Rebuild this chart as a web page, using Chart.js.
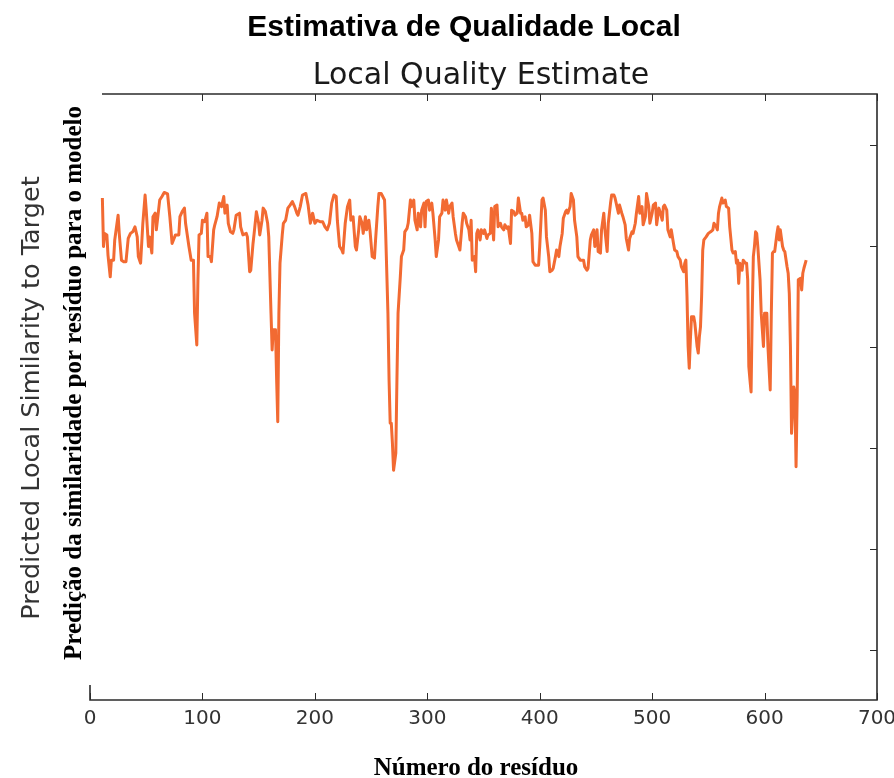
<!DOCTYPE html>
<html>
<head>
<meta charset="utf-8">
<script src="https://cdn.jsdelivr.net/npm/chart.js@4"></script>
<style>
  html, body { margin: 0; padding: 0; background: #fff; }
  #wrap { width: 894px; height: 778px; }
</style>
</head>
<body>
<div id="wrap"><canvas id="grafico" width="894" height="778"></canvas></div>
<script>
// Número do resíduo
const residues = [
  11, 12, 13, 15, 16, 18, 19, 21, 22, 25, 26, 28, 30, 32, 34, 36, 38, 40, 42, 43,
  45, 47, 49, 50, 52, 53, 55, 56, 58, 59, 61, 62, 64, 66, 69, 71, 73, 76, 79, 80,
  82, 84, 85, 88, 90, 92, 93, 95, 96, 97, 99, 100, 102, 104, 105, 107, 108, 110, 111, 113,
  115, 117, 119, 120, 122, 123, 125, 127, 128, 130, 133, 134, 136, 139, 140, 142, 143, 145, 146, 148,
  150, 151, 153, 154, 156, 158, 159, 161, 162, 163, 165, 166, 167, 168, 169, 171, 172, 174, 176, 178,
  180, 182, 184, 185, 187, 189, 192, 194, 196, 198, 200, 202, 205, 207, 209, 211, 213, 215, 217, 219,
  220, 222, 224, 225, 227, 229, 231, 232, 234, 236, 237, 239, 240, 242, 243, 245, 246, 248, 249, 251,
  253, 254, 256, 257, 259, 262, 263, 265, 266, 267, 268, 269, 270, 272, 273, 274, 276, 277, 279, 280,
  282, 283, 285, 286, 288, 289, 291, 292, 294, 295, 297, 298, 299, 301, 302, 304, 305, 307, 308, 310,
  311, 313, 314, 316, 317, 319, 320, 322, 323, 325, 326, 328, 329, 331, 332, 334, 335, 337, 338, 339,
  340, 342, 343, 344, 345, 347, 348, 350, 351, 353, 354, 356, 357, 359, 360, 362, 363, 365, 366, 368,
  369, 371, 372, 374, 375, 377, 378, 380, 381, 383, 384, 385, 387, 388, 390, 391, 393, 394, 396, 399,
  400, 402, 403, 405, 406, 408, 409, 411, 412, 414, 415, 417, 418, 420, 421, 423, 424, 425, 427, 428,
  430, 431, 433, 434, 436, 437, 439, 440, 442, 443, 445, 446, 448, 449, 451, 452, 454, 455, 457, 458,
  460, 461, 463, 464, 466, 467, 469, 470, 471, 473, 474, 476, 477, 479, 480, 482, 483, 485, 486, 488,
  489, 491, 492, 494, 495, 497, 498, 500, 501, 503, 504, 506, 507, 509, 510, 511, 513, 514, 516, 517,
  519, 520, 522, 523, 525, 526, 528, 529, 530, 531, 532, 533, 534, 535, 537, 538, 540, 541, 542, 543,
  544, 545, 546, 548, 550, 552, 554, 555, 557, 558, 559, 560, 562, 563, 565, 566, 568, 569, 571, 572,
  574, 575, 576, 577, 578, 580, 581, 583, 584, 585, 586, 587, 588, 589, 590, 591, 592, 593, 594, 596,
  597, 599, 600, 602, 603, 605, 606, 607, 608, 609, 611, 612, 613, 614, 616, 617, 618, 620, 621, 622,
  623, 624, 626, 627, 628, 629, 630, 632, 633, 634, 635, 637
];

// Similaridade local prevista
const scores = [
  0.894, 0.798, 0.824, 0.821, 0.781, 0.738, 0.771, 0.771, 0.811, 0.860, 0.824, 0.771, 0.768, 0.768, 0.814, 0.824, 0.827, 0.837, 0.817, 0.778,
  0.765, 0.844, 0.900, 0.870, 0.798, 0.817, 0.785, 0.857, 0.864, 0.831, 0.870, 0.890, 0.897, 0.905, 0.902, 0.857, 0.804, 0.821, 0.821, 0.857,
  0.867, 0.874, 0.844, 0.798, 0.771, 0.771, 0.666, 0.603, 0.732, 0.821, 0.824, 0.850, 0.847, 0.864, 0.778, 0.778, 0.768, 0.831, 0.841, 0.857,
  0.884, 0.877, 0.897, 0.864, 0.880, 0.844, 0.827, 0.824, 0.831, 0.860, 0.864, 0.837, 0.821, 0.824, 0.817, 0.748, 0.751, 0.804, 0.824, 0.867,
  0.844, 0.821, 0.850, 0.874, 0.867, 0.844, 0.817, 0.666, 0.593, 0.633, 0.633, 0.534, 0.451, 0.666, 0.765, 0.821, 0.844, 0.850, 0.874, 0.880,
  0.887, 0.877, 0.864, 0.860, 0.877, 0.900, 0.903, 0.880, 0.844, 0.864, 0.844, 0.850, 0.847, 0.847, 0.837, 0.831, 0.844, 0.884, 0.900, 0.897,
  0.850, 0.798, 0.791, 0.785, 0.844, 0.877, 0.890, 0.850, 0.857, 0.798, 0.791, 0.831, 0.857, 0.844, 0.824, 0.857, 0.831, 0.850, 0.831, 0.778,
  0.775, 0.811, 0.877, 0.903, 0.903, 0.890, 0.824, 0.666, 0.534, 0.448, 0.448, 0.408, 0.355, 0.389, 0.534, 0.666, 0.738, 0.778, 0.791, 0.827,
  0.834, 0.844, 0.890, 0.877, 0.890, 0.850, 0.831, 0.864, 0.837, 0.870, 0.884, 0.837, 0.887, 0.890, 0.870, 0.884, 0.864, 0.811, 0.778, 0.811,
  0.857, 0.864, 0.890, 0.870, 0.890, 0.864, 0.877, 0.884, 0.857, 0.824, 0.811, 0.798, 0.791, 0.844, 0.864, 0.857, 0.844, 0.831, 0.811, 0.850,
  0.771, 0.778, 0.748, 0.824, 0.831, 0.811, 0.831, 0.824, 0.831, 0.814, 0.821, 0.824, 0.874, 0.811, 0.877, 0.880, 0.837, 0.844, 0.837, 0.831,
  0.841, 0.834, 0.837, 0.804, 0.870, 0.867, 0.860, 0.864, 0.894, 0.864, 0.864, 0.850, 0.857, 0.837, 0.841, 0.860, 0.824, 0.768, 0.761, 0.761,
  0.798, 0.890, 0.894, 0.870, 0.817, 0.778, 0.748, 0.751, 0.755, 0.778, 0.791, 0.778, 0.798, 0.824, 0.854, 0.867, 0.870, 0.864, 0.877, 0.903,
  0.890, 0.850, 0.817, 0.778, 0.771, 0.771, 0.771, 0.758, 0.751, 0.755, 0.811, 0.821, 0.831, 0.798, 0.831, 0.788, 0.785, 0.831, 0.864, 0.831,
  0.788, 0.844, 0.884, 0.900, 0.900, 0.894, 0.874, 0.864, 0.880, 0.864, 0.857, 0.841, 0.814, 0.791, 0.814, 0.827, 0.824, 0.844, 0.864, 0.897,
  0.864, 0.877, 0.841, 0.857, 0.903, 0.877, 0.844, 0.864, 0.880, 0.884, 0.841, 0.874, 0.867, 0.850, 0.877, 0.880, 0.870, 0.831, 0.817, 0.831,
  0.804, 0.791, 0.788, 0.778, 0.771, 0.758, 0.748, 0.765, 0.771, 0.699, 0.600, 0.557, 0.613, 0.659, 0.659, 0.646, 0.600, 0.587, 0.619, 0.639,
  0.699, 0.791, 0.811, 0.817, 0.824, 0.827, 0.831, 0.844, 0.837, 0.831, 0.864, 0.877, 0.894, 0.884, 0.890, 0.877, 0.874, 0.837, 0.791, 0.785,
  0.788, 0.765, 0.771, 0.725, 0.765, 0.751, 0.771, 0.765, 0.765, 0.732, 0.560, 0.534, 0.510, 0.666, 0.778, 0.798, 0.827, 0.824, 0.798, 0.732,
  0.666, 0.600, 0.666, 0.666, 0.600, 0.514, 0.666, 0.785, 0.788, 0.788, 0.824, 0.837, 0.811, 0.831, 0.798, 0.791, 0.788, 0.758, 0.745, 0.705,
  0.600, 0.428, 0.520, 0.507, 0.362, 0.501, 0.732, 0.735, 0.712, 0.745, 0.755, 0.771
];

// Marcas dos eixos
const xTicks = [0, 100, 200, 300, 400, 500, 600, 700];
const yTicks = [0, 0.2, 0.4, 0.6, 0.8, 1.0];

const tituloPrincipal = "Estimativa de Qualidade Local";
const tituloOriginal = "Local Quality Estimate";
const rotuloYOriginal = "Predicted Local Similarity to Target";
const rotuloY = "Predição da similaridade por resíduo para o modelo";
const rotuloX = "Número do resíduo";

const corLinha = "#f26a32";
const corEixo = "#2b2b2b";

// Moldura e marcas internas (estilo matplotlib)
const molduraPlugin = {
  id: "moldura",
  afterDraw(chart) {
    const ctx = chart.ctx;
    const { left, right, top, bottom } = chart.chartArea;
    const sx = chart.scales.x, sy = chart.scales.y;
    ctx.save();
    ctx.strokeStyle = corEixo;
    ctx.lineWidth = 1.6;
    ctx.beginPath();
    ctx.moveTo(left + 12, top); ctx.lineTo(right, top);
    ctx.lineTo(right, bottom); ctx.lineTo(left, bottom);
    ctx.lineTo(left, bottom - 15);
    ctx.stroke();

    ctx.lineWidth = 1;
    ctx.beginPath();
    xTicks.forEach(v => {
      const x = Math.round(sx.getPixelForValue(v)) + 0.5;
      ctx.moveTo(x, bottom); ctx.lineTo(x, bottom - 7);
      if (x > left + 12) { ctx.moveTo(x, top); ctx.lineTo(x, top + 7); }
    });
    yTicks.forEach(v => {
      const y = Math.round(sy.getPixelForValue(v)) + 0.5;
      ctx.moveTo(right, y); ctx.lineTo(right - 7, y);
    });
    ctx.stroke();
    ctx.restore();
  }
};

// Títulos e rótulos
const textosPlugin = {
  id: "textos",
  afterDraw(chart) {
    const ctx = chart.ctx;
    ctx.save();
    ctx.textAlign = "center";
    ctx.textBaseline = "alphabetic";

    ctx.fillStyle = "#000";
    ctx.font = "bold 30px 'Liberation Sans', Arial, sans-serif";
    ctx.fillText(tituloPrincipal, 464, 36);

    ctx.fillStyle = "#1a1a1a";
    ctx.font = "30px 'DejaVu Sans', sans-serif";
    ctx.fillText(tituloOriginal, 481, 84);

    ctx.fillStyle = "#000";
    ctx.font = "bold 25px 'Liberation Serif', 'Times New Roman', serif";
    ctx.fillText(rotuloX, 476, 775);

    // rótulos verticais
    ctx.save();
    ctx.translate(39, 398);
    ctx.rotate(-Math.PI / 2);
    ctx.fillStyle = "#333";
    ctx.font = "25.5px 'DejaVu Sans', sans-serif";
    ctx.fillText(rotuloYOriginal, 0, 0);
    ctx.restore();

    ctx.save();
    ctx.translate(81, 383);
    ctx.rotate(-Math.PI / 2);
    ctx.fillStyle = "#000";
    ctx.font = "bold 25px 'Liberation Serif', 'Times New Roman', serif";
    ctx.fillText(rotuloY, 0, 0);
    ctx.restore();

    ctx.restore();
  }
};

new Chart(document.getElementById("grafico"), {
  type: "line",
  data: {
    datasets: [{
      data: residues.map((r, i) => ({ x: r, y: scores[i] })),
      borderColor: corLinha,
      borderWidth: 3,
      pointRadius: 0,
      tension: 0,
      borderJoinStyle: "round",
      fill: false
    }]
  },
  options: {
    responsive: false,
    animation: false,
    events: [],
    layout: { padding: { left: 90, right: 17, top: 94, bottom: 0 } },
    plugins: { legend: { display: false }, tooltip: { enabled: false }, title: { display: false } },
    scales: {
      x: {
        type: "linear",
        min: 0,
        max: 700,
        afterBuildTicks: s => { s.ticks = xTicks.map(v => ({ value: v })); },
        afterFit: s => { s.height = 78; s.paddingLeft = 0; s.paddingRight = 0; },
        grid: { display: false, drawTicks: false },
        border: { display: false },
        ticks: {
          color: "#333",
          font: { family: "'DejaVu Sans', sans-serif", size: 20 },
          padding: 7,
          maxRotation: 0,
          autoSkip: false
        }
      },
      y: {
        type: "linear",
        min: -0.1,
        max: 1.1,
        display: false
      }
    }
  },
  plugins: [molduraPlugin, textosPlugin]
});
</script>
</body>
</html>
